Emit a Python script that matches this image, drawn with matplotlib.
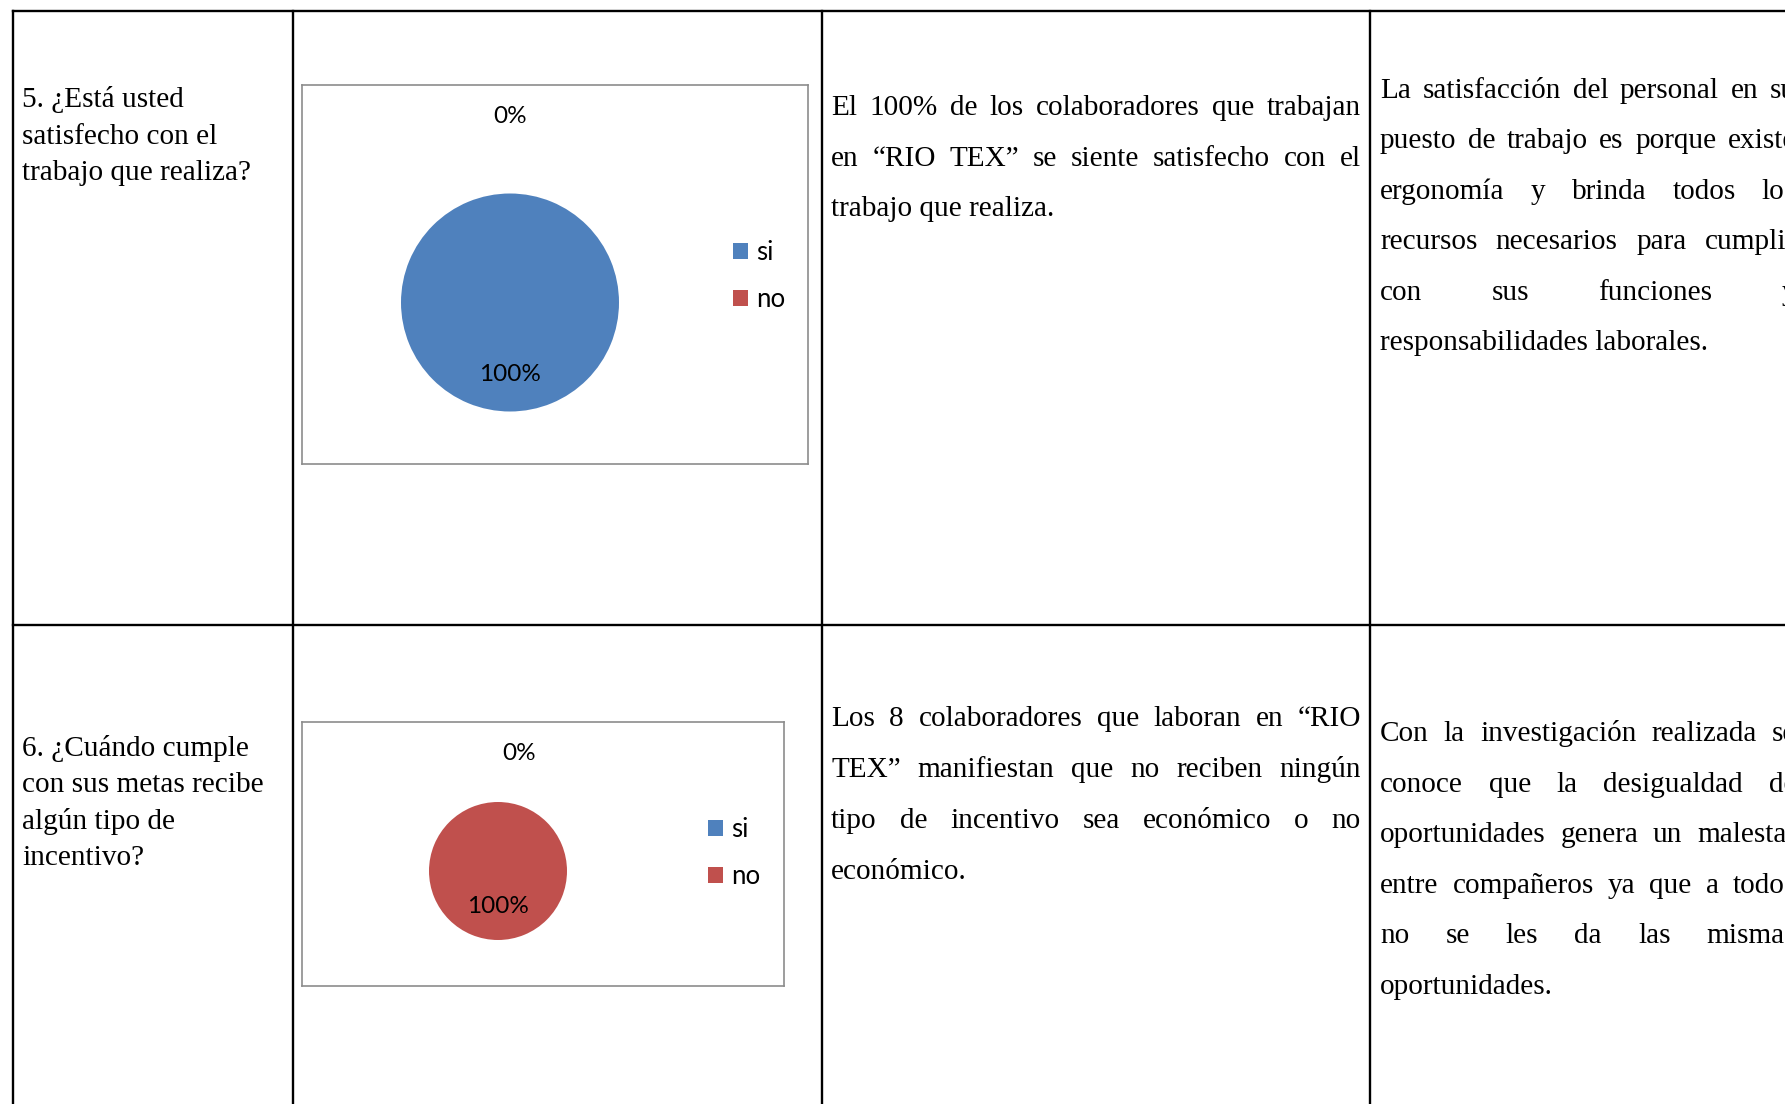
import numpy as np
import matplotlib
matplotlib.use('Agg')
import matplotlib.pyplot as plt

# datos de las dos preguntas
categorias = ['si', 'no']
colores = ['#4F81BD', '#C0504D']
valores_p5 = [8, 0]   # 5. satisfecho con el trabajo
valores_p6 = [0, 8]   # 6. recibe incentivo

pregunta_p5 = ['5. ¿Está usted', 'satisfecho con el', 'trabajo que realiza?']
pregunta_p6 = ['6. ¿Cuándo cumple', 'con sus metas recibe', 'algún tipo de', 'incentivo?']

analisis_p5 = ['El 100% de los colaboradores que trabajan',
               'en “RIO TEX” se siente satisfecho con el',
               'trabajo que realiza.']
interpretacion_p5 = ['La satisfacción del personal en su',
                     'puesto de trabajo es porque existe',
                     'ergonomía y brinda todos los',
                     'recursos necesarios para cumplir',
                     'con sus funciones y',
                     'responsabilidades laborales.']
analisis_p6 = ['Los 8 colaboradores que laboran en “RIO',
               'TEX” manifiestan que no reciben ningún',
               'tipo de incentivo sea económico o no',
               'económico.']
interpretacion_p6 = ['Con la investigación realizada se',
                     'conoce que la desigualdad de',
                     'oportunidades genera un malestar',
                     'entre compañeros ya que a todos',
                     'no se les da las mismas',
                     'oportunidades.']

W, H = 1785, 1104
fig = plt.figure(figsize=(W / 100, H / 100), dpi=100)
bg = fig.add_axes([0, 0, 1, 1])
bg.set_xlim(0, W)
bg.set_ylim(H, 0)
bg.axis('off')

# lineas de la tabla
lw = 1.7
bg.plot([13, W + 10], [11, 11], color='black', lw=lw)
bg.plot([13, W + 10], [625, 625], color='black', lw=lw)
for xv in [13, 293, 822, 1370]:
    bg.plot([xv, xv], [11, H + 10], color='black', lw=lw)

serif = dict(family='Liberation Serif', size=21.1, color='black')
renderer = fig.canvas.get_renderer()


def parrafo(lineas, x0, x1, y0, dy, justificar=True):
    for i, linea in enumerate(lineas):
        y = y0 + i * dy
        palabras = linea.split()
        if not justificar or i == len(lineas) - 1 or len(palabras) == 1:
            bg.text(x0, y, linea, va='baseline', ha='left', **serif)
            continue
        textos = [bg.text(0, y, p, va='baseline', ha='left', **serif) for p in palabras]
        anchos = [t.get_window_extent(renderer).width for t in textos]
        hueco = (x1 - x0 - sum(anchos)) / (len(palabras) - 1)
        x = x0
        for t, a in zip(textos, anchos):
            t.set_x(x)
            x += a + hueco


parrafo(pregunta_p5, 22, 290, 107, 36.5, justificar=False)
parrafo(pregunta_p6, 22, 290, 756, 36.3, justificar=False)
parrafo(analisis_p5, 831, 1361, 115, 50.5)
parrafo(interpretacion_p5, 1380, 1796, 98, 50.4)
parrafo(analisis_p6, 831, 1361, 726, 51)
parrafo(interpretacion_p6, 1380, 1796, 741, 50.6)


def grafico(valores, caja, centro, radio, pct_dist, dx_cero, ley_x, ley_y):
    x0, y0, x1, y1 = caja
    ax = fig.add_axes([x0 / W, 1 - y1 / H, (x1 - x0) / W, (y1 - y0) / H])
    cx, cy = centro[0] - x0, y1 - centro[1]
    wedges, _ = ax.pie(valores, colors=colores, startangle=90, counterclock=False,
                       center=(cx, cy), radius=radio, frame=True,
                       wedgeprops=dict(linewidth=0))
    ax.set_xlim(0, x1 - x0)
    ax.set_ylim(0, y1 - y0)
    ax.set_xticks([])
    ax.set_yticks([])
    for s in ax.spines.values():
        s.set_color('#8c8c8c')
        s.set_linewidth(1.2)
    total = sum(valores)
    for w, v in zip(wedges, valores):
        ang = np.deg2rad((w.theta1 + w.theta2) / 2)
        d = pct_dist if v > 0 else 1.71
        dx = 0 if v > 0 else dx_cero
        ax.text(cx + d * radio * np.cos(ang) + dx, cy + d * radio * np.sin(ang),
                '{:.0f}%'.format(100 * v / total), ha='center', va='center',
                family='Lato', fontsize=17.5)
    ax.legend(wedges, categorias, loc='center left', frameon=False,
              bbox_to_anchor=(ley_x, ley_y), bbox_transform=bg.transData,
              prop=dict(family='Lato', size=18.5), handlelength=0.6,
              handleheight=0.6, handletextpad=0.3, labelspacing=0.85,
              borderpad=0, borderaxespad=0)


grafico(valores_p5, (302, 85, 808, 464), (510, 302.5), 109, 0.66, 0, 733, 276)
grafico(valores_p6, (302, 722, 784, 986), (498, 871), 69, 0.51, 21, 708, 853)

fig.savefig('out.png', dpi=100)
